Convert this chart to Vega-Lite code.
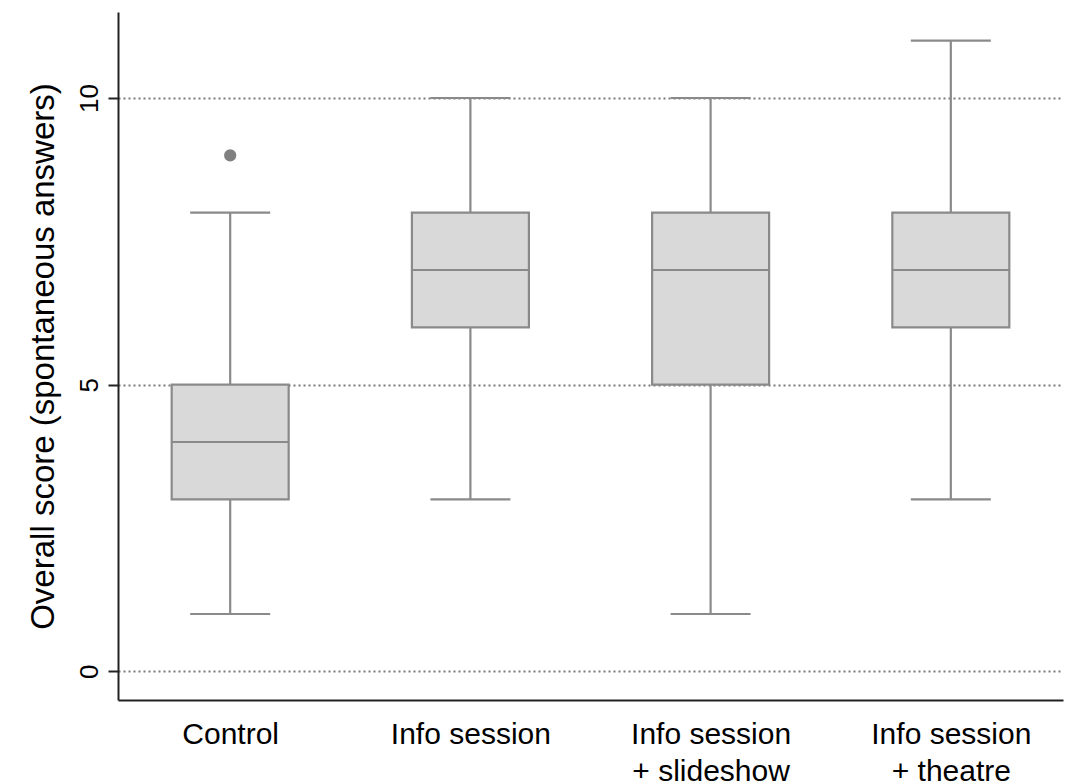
{
  "$schema": "https://vega.github.io/schema/vega-lite/v6.json",
  "autosize": {"type": "none"},
  "width": 945,
  "height": 688,
  "padding": {"left": 118, "top": 12, "right": 7, "bottom": 83},
  "background": "white",
  "config": {
    "font": "Liberation Sans",
    "view": {"stroke": null},
    "axis": {"labelFont": "Liberation Sans", "titleFont": "Liberation Sans"}
  },
  "datasets": {
    "boxes": [
      {"group": "Control", "lower": 1, "q1": 3, "median": 4, "q3": 5, "upper": 8},
      {"group": "Info session", "lower": 3, "q1": 6, "median": 7, "q3": 8, "upper": 10},
      {"group": "Info session|+ slideshow", "lower": 1, "q1": 5, "median": 7, "q3": 8, "upper": 10},
      {"group": "Info session|+ theatre", "lower": 3, "q1": 6, "median": 7, "q3": 8, "upper": 11}
    ],
    "outliers": [
      {"group": "Control", "value": 9}
    ]
  },
  "layer": [
    {
      "data": {"name": "boxes"},
      "mark": {"type": "rule", "stroke": "#8a8a8a", "strokeWidth": 2.2},
      "encoding": {
        "x": {"field": "group", "type": "nominal", "sort": null,
              "scale": {"type": "point", "padding": 0.467},
              "axis": {"title": null, "labelExpr": "split(datum.label, '|')", "labelAngle": 0,
                       "labelFontSize": 30, "labelColor": "black", "labelLineHeight": 37,
                       "labelPadding": 19, "ticks": false, "domainColor": "#222", "domainWidth": 2, "grid": false}},
        "y": {"field": "lower", "type": "quantitative",
              "scale": {"domain": [-0.5, 11.5], "nice": false, "zero": false},
              "axis": {"title": "Overall score (spontaneous answers)", "titleFontSize": 33, "titleFontWeight": "normal",
                       "titleColor": "black", "titlePadding": 16, "values": [0, 5, 10], "format": "d",
                       "labelAngle": 270, "labelAlign": "center", "labelBaseline": "alphabetic",
                       "labelFontSize": 26, "labelColor": "black", "labelPadding": 11,
                       "tickSize": 10, "tickColor": "#222", "tickWidth": 2,
                       "domainColor": "#222", "domainWidth": 2,
                       "grid": true, "gridColor": "#7a7a7a", "gridDash": [2, 3], "gridWidth": 2}},
        "y2": {"field": "upper"}
      }
    },
    {
      "data": {"name": "boxes"},
      "mark": {"type": "tick", "orient": "horizontal", "size": 80, "thickness": 2.2, "color": "#8a8a8a", "opacity": 1},
      "encoding": {
        "x": {"field": "group", "type": "nominal", "sort": null},
        "y": {"field": "lower", "type": "quantitative"}
      }
    },
    {
      "data": {"name": "boxes"},
      "mark": {"type": "tick", "orient": "horizontal", "size": 80, "thickness": 2.2, "color": "#8a8a8a", "opacity": 1},
      "encoding": {
        "x": {"field": "group", "type": "nominal", "sort": null},
        "y": {"field": "upper", "type": "quantitative"}
      }
    },
    {
      "data": {"name": "boxes"},
      "mark": {"type": "bar", "size": 117, "fill": "#d9d9d9", "stroke": "#8a8a8a", "strokeWidth": 2.2},
      "encoding": {
        "x": {"field": "group", "type": "nominal", "sort": null},
        "y": {"field": "q1", "type": "quantitative"},
        "y2": {"field": "q3"}
      }
    },
    {
      "data": {"name": "boxes"},
      "mark": {"type": "tick", "orient": "horizontal", "size": 117, "thickness": 2.2, "color": "#8a8a8a", "opacity": 1},
      "encoding": {
        "x": {"field": "group", "type": "nominal", "sort": null},
        "y": {"field": "median", "type": "quantitative"}
      }
    },
    {
      "data": {"name": "outliers"},
      "mark": {"type": "circle", "size": 150, "color": "#808080", "opacity": 1},
      "encoding": {
        "x": {"field": "group", "type": "nominal", "sort": null},
        "y": {"field": "value", "type": "quantitative"}
      }
    }
  ]
}
